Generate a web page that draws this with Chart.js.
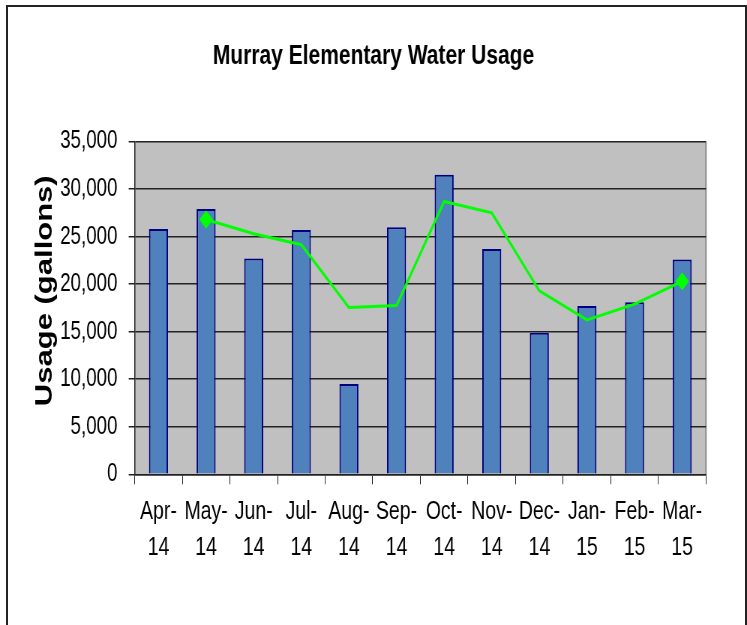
<!DOCTYPE html>
<html>
<head>
<meta charset="utf-8">
<script src="https://cdn.jsdelivr.net/npm/chart.js@4/dist/chart.umd.min.js"></script>
<style>
  html, body { margin: 0; padding: 0; background: #fff; overflow: hidden; }
  #frame {
    position: absolute; left: 6px; top: 5px; width: 737px; height: 700px;
    border: 2px solid #222; border-bottom: none;
  }
  /* drawn 996px wide, then squeezed to 747px like the original picture */
  #chart { position: absolute; left: 0; top: 0; transform: scaleX(0.75); transform-origin: 0 0; }
</style>
</head>
<body>
<div id="frame"></div>
<canvas id="chart" width="996" height="625"></canvas>
<script>
const months = [['Apr-', '14'], ['May-', '14'], ['Jun-', '14'], ['Jul-', '14'], ['Aug-', '14'], ['Sep-', '14'],
  ['Oct-', '14'], ['Nov-', '14'], ['Dec-', '14'], ['Jan-', '15'], ['Feb-', '15'], ['Mar-', '15']];
const usage = [25800, 27900, 22700, 25700, 9500, 26000, 31500, 23700, 14900, 17700, 18100, 22600];
const trend = [null, 26800, 25300, 24150, 17550, 17750, 28700, 27500, 19300, 16250, 17900, 20300];
const yTicks = [0, 5000, 10000, 15000, 20000, 25000, 30000, 35000];

const font = "'Liberation Sans', Arial, sans-serif";
const ink = '#222';

const plotBg = {
  id: 'plotBg',
  beforeDraw(chart) {
    const { ctx, chartArea: a } = chart;
    ctx.save();
    ctx.fillStyle = '#c0c0c0';
    ctx.fillRect(a.left, a.top, a.right - a.left, a.bottom - a.top);
    ctx.strokeStyle = '#8c8c8c';
    ctx.lineWidth = 2;
    ctx.beginPath();
    ctx.moveTo(a.right, a.top);
    ctx.lineTo(a.right, a.bottom);
    ctx.stroke();
    ctx.restore();
  }
};

new Chart(document.getElementById('chart'), {
  type: 'bar',
  data: {
    labels: months,
    datasets: [
      {
        type: 'line', data: trend, borderColor: '#00ff00', backgroundColor: '#00ff00',
        borderWidth: 3, tension: 0, spanGaps: true, pointStyle: 'rectRot',
        pointRadius: c => (c.dataIndex === 1 || c.dataIndex === trend.length - 1) ? 7 : 0,
        order: 0,
      },
      {
        data: usage, backgroundColor: '#4f81bd', borderColor: '#000080', borderWidth: 2,
        barPercentage: 0.4, categoryPercentage: 1, order: 1,
      },
    ],
  },
  options: {
    responsive: false,
    animation: false,
    devicePixelRatio: 1,
    layout: { padding: { left: 54.7, right: 54.7, top: 0, bottom: 0 } },
    plugins: {
      legend: { display: false },
      tooltip: { enabled: false },
      title: {
        display: true, text: 'Murray Elementary Water Usage', color: '#000',
        font: { family: font, size: 28, weight: 'bold', lineHeight: 1.2 },
        padding: { top: 39, bottom: 69 },
      },
    },
    scales: {
      x: {
        afterFit(s) { s.height = 150.7; },
        grid: { offset: true, drawOnChartArea: false, drawTicks: true, tickLength: 10, color: ink },
        border: { color: ink, width: 1.5 },
        ticks: { color: '#000', font: { family: font, size: 26, lineHeight: 1.4 }, maxRotation: 0, autoSkip: false, padding: 9 },
      },
      y: {
        min: 0, max: 35000,
        afterFit(s) { s.width = 124.9; },
        afterBuildTicks(s) { s.ticks = yTicks.map(v => ({ value: v })); },
        grid: { color: ink, lineWidth: 1.5, tickLength: 8 },
        border: { color: ink, width: 1.5 },
        ticks: {
          color: '#000', font: { family: font, size: 25 }, padding: 15,
          callback: v => v.toLocaleString('en-US'),
        },
        title: {
          display: true, text: '    Usage (gallons)', color: '#000',
          font: { family: font, size: 31, weight: 'bold', lineHeight: 1.2 },
          padding: { top: -13, bottom: 0 },
        },
      },
    },
  },
  plugins: [plotBg],
});
</script>
</body>
</html>
